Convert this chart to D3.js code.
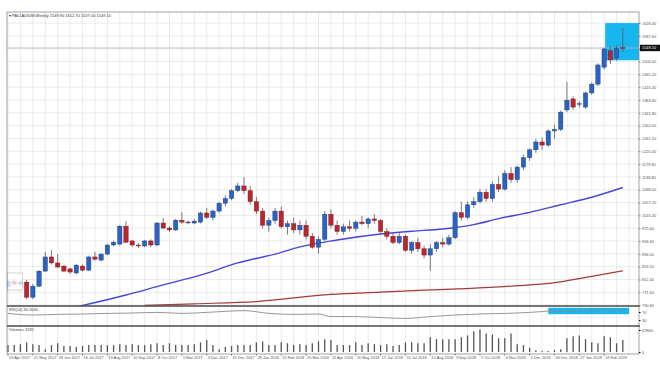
<!DOCTYPE html>
<html><head><meta charset="utf-8">
<script src="https://cdn.jsdelivr.net/npm/d3@7/dist/d3.min.js"></script>
<style>body{margin:0;background:#fff}svg{display:block;font-family:"Liberation Sans",Arial,sans-serif}</style>
</head><body><svg id="c" width="660" height="368"></svg>
<script>
// ---- data ----
const title = "PALLADIUM,Weekly  1549.90 1612.70 1537.00 1549.10";
const opens  = [790,805,798,804,756,791,839,884,865,855,846,833,855,842,884,874,893,922,925,982,935,922,919,935,922,992,976,970,1001,995,992,995,
 1024,1010,1030,1055,1070,1095,1110,1095,1060,1030,985,1000,1030,980,990,970,985,950,915,940,1020,985,965,980,975,995,990,1005,1000,965,950,930,950,905,930,910,890,910,930,925,945,1025,1010,1050,1060,1090,1070,1115,1100,1150,1130,1170,1200,1225,1250,1240,1285,1290,
 1352,1387,1370,1361,1406,1434,1488,1540,1517,1549.9];
const highs  = [812,815,812,811,798,842,900,906,893,858,849,862,860,888,900,897,925,936,986,998,938,928,938,940,995,1008,982,1005,1027,1000,1004,1028,
 1040,1035,1060,1080,1100,1120,1138,1110,1075,1040,1010,1040,1045,1000,1010,1000,1000,960,950,1030,1035,1000,990,1000,1000,1015,1010,1020,1005,975,960,960,955,935,945,920,925,935,945,955,1030,1060,1060,1075,1100,1100,1125,1140,1160,1170,1175,1210,1230,1260,1265,1290,1305,1350,
 1441,1395,1380,1410,1440,1500,1550,1555,1558,1612.7];
const lows   = [780,792,790,750,750,788,836,860,848,835,830,829,838,839,872,870,890,918,921,928,916,912,915,915,919,972,963,967,990,988,988,991,
 1005,1000,1025,1045,1065,1090,1085,1050,1020,975,965,990,975,955,960,955,940,910,895,935,975,955,955,965,965,985,975,990,960,940,925,925,900,895,900,880,840,900,915,920,940,1000,1005,1040,1055,1060,1060,1090,1095,1120,1120,1160,1190,1215,1225,1235,1260,1285,
 1345,1352,1360,1355,1400,1428,1480,1498,1508,1537];
const closes = [805,798,804,756,791,839,884,865,852,839,836,858,842,884,877,893,922,931,982,931,922,919,935,922,992,976,970,1001,995,994,998,1024,
 1010,1030,1055,1070,1095,1110,1095,1060,1030,985,1000,1030,980,990,970,985,950,915,940,1020,985,965,980,975,995,990,1005,1000,965,950,930,950,905,930,910,890,910,930,925,945,1025,1010,1050,1060,1090,1070,1115,1100,1150,1130,1170,1200,1225,1250,1240,1285,1290,1345,
 1383,1361,1372,1406,1434,1495,1546,1511,1549,1549.1];
const volumes = [15,15,17,21,17,15,6,15,19,13,13,11,13,15,15,15,15,15,17,15,17,15,15,17,19,15,19,15,15,15,17,21,26,15,6,11,13,15,15,15,21,23,15,15,21,19,15,17,15,19,23,28,
 26,15,15,15,21,15,19,17,15,17,13,15,21,21,19,19,32,28,28,28,28,32,36,45,49,40,38,30,30,40,17,15,9,4,2,2,4,6,30,34,36,28,21,19,34,32,19,26].map(v=>v*1000);
const maFastIdx = [8,12,19,25,31,37,43,47,53,60,65,70,75,79,84,89,94,99];
const maFast    = [715,730,763,795,826,865,893,916,938,957,966,973,987,1006,1026,1050,1074,1105];
const maSlowIdx = [22,30,40,52,60,68,79,89,94,99];
const maSlow    = [730,735,742,765,772,779,789,805,822,840];
const rsiIdx = [0,4,8,12,16,20,24,28,32,36,38,42,46,50,52,56,60,64,68,72,76,80,84,86,88,92,96,99];
const rsi    = [63,55,58,60,63,65,68,63,68,75,77,63,58,60,47,47,42,38,47,55,60,63,68,72,77,78,80,78];
const dateLabels = ["23 Apr 2017","21 May 2017","18 Jun 2017","16 Jul 2017","13 Aug 2017","10 Sep 2017","8 Oct 2017","5 Nov 2017","3 Dec 2017","31 Dec 2017","28 Jan 2018","25 Feb 2018","25 Mar 2018","22 Apr 2018","20 May 2018","17 Jun 2018","15 Jul 2018","12 Aug 2018","9 Sep 2018","7 Oct 2018","4 Nov 2018","2 Dec 2018","30 Dec 2018","27 Jan 2019","24 Feb 2019"];
const priceTicks = d3.range(0,23).map(k=>+(730.8+k*40.8).toFixed(2));
const lastPrice = 1549.10;
const boxLow = 1510, boxHigh = 1628.4, boxStart = 96;
const rsiBoxStart = 87, rsiBoxEnd = 100, rsiBoxLow = 59, rsiBoxHigh = 91;
const rsiTitle = "RSI(14) 80.2646", volTitle = "Volumes 3195";

// ---- layout ----
const L=7, R=639, T=12, B=306, RT=306, RB=326, VT=326, VB=354;
const svg = d3.select("#c");
const n = opens.length;
const x = d3.scaleLinear().domain([0,99]).range([8,622.8]);
const y = d3.scaleLinear().domain([730.8,1628.4]).range([305.1,23.06]);
const yr = d3.scaleLinear().domain([0,100]).range([RB,RT]);
const yv = d3.scaleLinear().domain([0,47860]).range([352,330]);

svg.append("rect").attr("x",L).attr("y",T).attr("width",R-L).attr("height",VB-T).attr("fill","#fff");
const grid = svg.append("g").attr("stroke","#dedede").attr("stroke-width",0.6);
grid.selectAll("line.v").data(d3.range(0,102,2)).join("line")
  .attr("x1",d=>x(d)).attr("x2",d=>x(d)).attr("y1",T).attr("y2",VB);
grid.selectAll("line.h").data(priceTicks).join("line")
  .attr("x1",L).attr("x2",R).attr("y1",d=>y(d)).attr("y2",d=>y(d));

svg.append("clipPath").attr("id","cm").append("rect").attr("x",L).attr("y",T).attr("width",R-L).attr("height",B-T);

// highlight box
svg.append("rect").attr("x",x(boxStart)+1).attr("y",y(boxHigh)).attr("width",R-x(boxStart)-1).attr("height",y(boxLow)-y(boxHigh)).attr("fill","#18b6ef");

// last price line
svg.append("line").attr("x1",L).attr("x2",R).attr("y1",y(lastPrice)).attr("y2",y(lastPrice)).attr("stroke","#a9b4c6").attr("stroke-width",0.8);

// moving averages
const gM = svg.append("g").attr("clip-path","url(#cm)");
gM.append("path").datum(maFastIdx.map((d,i)=>[d,maFast[i]]))
  .attr("d",d3.line().x(d=>x(d[0])).y(d=>y(d[1])).curve(d3.curveMonotoneX))
  .attr("fill","none").attr("stroke","#4646d8").attr("stroke-width",1.4);
gM.append("path").datum(maSlowIdx.map((d,i)=>[d,maSlow[i]]))
  .attr("d",d3.line().x(d=>x(d[0])).y(d=>y(d[1])).curve(d3.curveMonotoneX))
  .attr("fill","none").attr("stroke","#a33a3a").attr("stroke-width",1.2);

// candles
const cd = d3.range(n).map(i=>({i,o:opens[i],h:highs[i],l:lows[i],c:closes[i]}));
const gc = gM.append("g");
gc.selectAll("line").data(cd).join("line")
  .attr("x1",d=>x(d.i)).attr("x2",d=>x(d.i)).attr("y1",d=>y(d.h)).attr("y2",d=>y(d.l))
  .attr("stroke","#5a5a5a").attr("stroke-width",0.8);
gc.selectAll("rect").data(cd).join("rect")
  .attr("x",d=>x(d.i)-2.2).attr("width",4.4)
  .attr("y",d=>y(Math.max(d.o,d.c))).attr("height",d=>Math.max(0.8,Math.abs(y(d.o)-y(d.c))))
  .attr("fill",d=>d.c>=d.o?"#2c62c0":"#b8262e")
  .attr("stroke",d=>d.c>=d.o?"#1c3f82":"#7a1a1f").attr("stroke-width",0.4);

// small info window at left
svg.append("rect").attr("x",7.5).attr("y",273).attr("width",15).attr("height",17).attr("fill","#fff").attr("fill-opacity",0.75).attr("stroke","#b5b5b5").attr("stroke-width",0.6);

// RSI
svg.append("rect").attr("x",x(rsiBoxStart)).attr("y",yr(rsiBoxHigh)).attr("width",x(rsiBoxEnd)-x(rsiBoxStart)).attr("height",yr(rsiBoxLow)-yr(rsiBoxHigh)).attr("fill","#18b6ef");
svg.append("path").datum(rsiIdx.map((d,i)=>[d,rsi[i]]))
  .attr("d",d3.line().x(d=>x(d[0])).y(d=>yr(d[1])).curve(d3.curveMonotoneX))
  .attr("fill","none").attr("stroke","#8a8a8a").attr("stroke-width",0.9);

// volume
svg.append("g").selectAll("line").data(volumes).join("line")
  .attr("x1",(d,i)=>x(i)).attr("x2",(d,i)=>x(i)).attr("y1",yv(0)).attr("y2",d=>yv(d))
  .attr("stroke","#555").attr("stroke-width",1.3);

// panel separators and frame
svg.append("rect").attr("x",L).attr("y",T).attr("width",R-L).attr("height",VB-T).attr("fill","none").attr("stroke","#8c8c8c").attr("stroke-width",0.8);
[B,RB].forEach(v=>svg.append("line").attr("x1",L).attr("x2",R+1).attr("y1",v).attr("y2",v).attr("stroke","#4a4a4a").attr("stroke-width",1.4));

// price axis
const ay = svg.append("g").attr("transform",`translate(${R},0)`)
  .call(d3.axisRight(y).tickValues(priceTicks).tickSize(1.5).tickPadding(1.5).tickFormat(d3.format(".2f")));
ay.select(".domain").remove();
ay.selectAll("text").attr("font-size",3.9).attr("fill","#555");
ay.selectAll("line").attr("stroke","#777");
svg.append("rect").attr("x",R+1).attr("y",y(lastPrice)-3.2).attr("width",20).attr("height",6.4).attr("fill","#111");
svg.append("text").attr("x",R+3).attr("y",y(lastPrice)+1.4).attr("font-size",3.9).attr("fill","#fff").text(lastPrice.toFixed(2));

const ar = svg.append("g").attr("transform",`translate(${R},0)`)
  .call(d3.axisRight(yr).tickValues([70,30]).tickSize(1.5).tickPadding(1.5));
ar.select(".domain").remove(); ar.selectAll("text").attr("font-size",3.9).attr("fill","#555");
const av = svg.append("g").attr("transform",`translate(${R},0)`)
  .call(d3.axisRight(yv).tickValues([0,47860]).tickSize(1.5).tickPadding(1.5).tickFormat(d3.format("d")));
av.select(".domain").remove(); av.selectAll("text").attr("font-size",3.9).attr("fill","#555");

// time axis
const ax = svg.append("g").attr("transform",`translate(0,${VB})`);
ax.selectAll("line").data(dateLabels).join("line")
  .attr("x1",(d,i)=>x(i*4)).attr("x2",(d,i)=>x(i*4)).attr("y1",0).attr("y2",1.5).attr("stroke","#777");
ax.selectAll("text").data(dateLabels).join("text")
  .attr("x",(d,i)=>x(i*4)+1).attr("y",5).attr("font-size",3.9).attr("fill","#555").text(d=>d);

// titles
svg.append("text").attr("x",9).attr("y",16.5).attr("font-size",4).attr("fill","#333").text("\u25BE " + title);
svg.append("text").attr("x",9).attr("y",311).attr("font-size",3.9).attr("fill","#444").text(rsiTitle);
svg.append("text").attr("x",9).attr("y",331).attr("font-size",3.9).attr("fill","#444").text(volTitle);
</script></body></html>
